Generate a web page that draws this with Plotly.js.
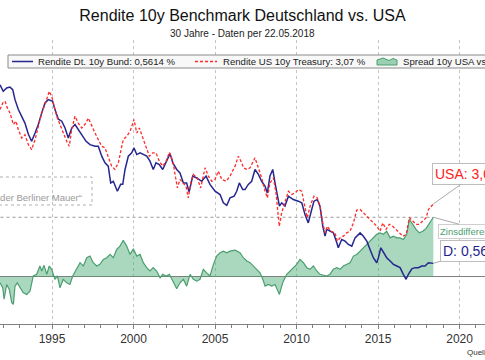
<!DOCTYPE html>
<html><head><meta charset="utf-8">
<script src="https://cdn.plot.ly/plotly-3.0.1.min.js"></script>
<style>html,body{margin:0;padding:0;background:#fff}#chart{width:485px;height:360px}</style>
</head><body><div id="chart"></div>
<script>
const deYears=[1991.81,1992.01,1992.22,1992.42,1992.59,1992.73,1992.93,1993.14,1993.34,1993.55,1993.75,1993.96,1994.16,1994.37,1994.57,1994.77,1995.04,1995.18,1995.39,1995.60,1995.80,1996.00,1996.21,1996.41,1996.61,1996.82,1997.09,1997.33,1997.64,1997.84,1998.05,1998.25,1998.45,1998.60,1998.76,1999.01,1999.21,1999.34,1999.48,1999.68,1999.89,2000.03,2000.20,2000.40,2000.60,2000.81,2001.01,2001.21,2001.38,2001.58,2001.79,2002.04,2002.24,2002.41,2002.65,2002.85,2003.06,2003.26,2003.41,2003.63,2003.88,2004.18,2004.45,2004.69,2005.00,2005.31,2005.51,2005.72,2005.92,2006.17,2006.33,2006.49,2006.70,2006.84,2007.04,2007.25,2007.45,2007.66,2007.86,2008.07,2008.21,2008.37,2008.54,2008.68,2008.82,2008.95,2009.09,2009.29,2009.50,2009.80,2010.11,2010.32,2010.52,2010.72,2010.93,2011.07,2011.27,2011.44,2011.61,2011.75,2011.85,2012.05,2012.26,2012.47,2012.56,2012.77,2012.98,2013.18,2013.39,2013.59,2013.79,2013.90,2014.10,2014.31,2014.51,2014.71,2014.92,2015.02,2015.17,2015.33,2015.53,2015.74,2015.94,2016.15,2016.35,2016.55,2016.72,2016.86,2017.07,2017.27,2017.47,2017.68,2017.88,2018.09,2018.29,2018.39];
const deVals=[8.11,7.83,7.97,8.01,7.90,7.48,7.07,6.78,6.49,6.02,5.72,6.07,6.43,6.92,7.34,7.48,7.41,7.06,6.65,6.57,6.28,5.86,6.28,6.43,6.22,6.00,5.72,5.58,5.51,5.51,5.09,4.81,4.67,3.96,4.03,3.61,3.90,3.90,4.53,5.09,5.23,5.44,5.16,5.23,5.16,5.09,4.88,4.53,4.81,4.74,4.53,4.88,5.20,4.81,4.53,4.38,3.96,3.96,3.57,4.25,4.17,4.03,4.25,3.90,3.61,3.47,3.12,3.01,3.33,3.40,3.61,3.96,3.68,3.68,3.90,4.03,4.53,4.32,4.03,3.82,3.54,4.25,4.53,3.96,3.47,2.98,3.12,2.98,3.40,3.26,3.19,3.12,2.63,2.27,2.84,3.19,3.26,2.98,2.13,1.71,2.00,1.92,1.85,1.43,1.22,1.57,1.50,1.36,1.29,1.64,1.79,1.85,1.71,1.50,1.15,0.80,0.59,0.80,1.22,1.01,0.80,0.66,0.52,0.45,0.38,0.10,-0.11,0.10,0.33,0.38,0.38,0.45,0.45,0.59,0.56,0.5614];

const usYears=[1991.81,1991.98,1992.12,1992.26,1992.42,1992.63,1992.79,1992.93,1993.14,1993.34,1993.55,1993.75,1993.96,1994.16,1994.37,1994.57,1994.83,1994.98,1995.12,1995.29,1995.49,1995.69,1995.90,1996.06,1996.21,1996.41,1996.61,1996.82,1997.02,1997.23,1997.44,1997.64,1997.84,1998.05,1998.25,1998.45,1998.66,1998.86,1999.07,1999.28,1999.37,1999.58,1999.79,2000.03,2000.20,2000.36,2000.57,2000.77,2000.97,2001.18,2001.38,2001.58,2001.79,2002.00,2002.20,2002.41,2002.55,2002.69,2002.85,2003.06,2003.22,2003.36,2003.51,2003.67,2003.91,2004.12,2004.39,2004.59,2004.80,2005.00,2005.20,2005.41,2005.68,2005.92,2006.23,2006.43,2006.64,2006.74,2006.95,2007.15,2007.45,2007.66,2007.86,2008.07,2008.21,2008.37,2008.58,2008.74,2008.88,2008.94,2009.09,2009.29,2009.50,2009.71,2009.91,2010.11,2010.32,2010.46,2010.66,2010.83,2011.07,2011.27,2011.44,2011.61,2011.75,2011.89,2012.10,2012.36,2012.50,2012.67,2012.87,2013.08,2013.28,2013.49,2013.69,2013.90,2014.10,2014.31,2014.51,2014.71,2014.92,2015.12,2015.29,2015.49,2015.69,2015.90,2016.10,2016.31,2016.52,2016.72,2016.92,2017.13,2017.33,2017.53,2017.74,2017.95,2018.09,2018.29,2018.39];
const usVals=[7.06,7.34,7.41,7.13,6.92,6.43,6.57,6.22,5.86,6.00,5.58,5.37,5.79,6.35,6.92,7.27,7.83,7.62,7.20,6.78,6.43,6.07,5.72,5.51,6.22,6.78,6.49,6.28,6.43,6.70,6.35,6.07,5.79,5.51,5.44,5.09,4.67,4.53,4.81,5.51,5.79,5.93,6.14,6.64,6.07,6.28,5.86,5.51,5.09,5.23,5.23,4.88,4.67,4.88,5.26,4.88,4.25,3.75,4.11,3.96,3.82,3.33,3.96,4.32,4.17,3.75,4.60,4.25,4.03,4.11,4.46,4.11,4.03,4.25,4.67,5.09,4.81,4.60,4.53,4.60,5.02,4.60,4.17,3.61,3.33,3.96,4.17,3.54,2.70,2.13,2.70,3.12,3.61,3.47,3.54,3.68,3.61,3.12,2.49,2.98,3.40,3.33,2.98,2.27,1.85,2.13,1.92,1.85,1.50,1.64,1.71,1.85,1.92,2.27,2.81,2.84,2.70,2.56,2.42,2.27,2.13,1.92,2.27,2.00,2.21,2.13,2.00,1.85,1.71,1.78,2.49,2.35,2.21,2.21,2.35,2.49,2.84,2.98,3.07];

const spYears=[1991.81,1991.98,1992.06,1992.22,1992.38,1992.53,1992.63,1992.73,1992.87,1993.04,1993.24,1993.45,1993.65,1993.85,1994.06,1994.26,1994.37,1994.51,1994.68,1994.83,1994.98,1995.18,1995.33,1995.49,1995.69,1995.90,1996.10,1996.27,1996.52,1996.72,1996.92,1997.13,1997.33,1997.53,1997.74,1997.94,1998.15,1998.36,1998.56,1998.76,1998.97,1999.17,1999.37,1999.58,1999.79,1999.99,2000.20,2000.40,2000.60,2000.81,2001.01,2001.21,2001.42,2001.63,2001.79,2002.00,2002.20,2002.41,2002.65,2002.85,2003.06,2003.26,2003.47,2003.67,2003.88,2004.08,2004.28,2004.49,2004.69,2004.90,2005.10,2005.31,2005.51,2005.72,2005.92,2006.23,2006.53,2006.74,2006.95,2007.15,2007.35,2007.56,2007.76,2007.93,2008.07,2008.27,2008.48,2008.68,2008.82,2008.95,2009.09,2009.19,2009.40,2009.60,2009.80,2010.01,2010.21,2010.42,2010.63,2010.83,2011.03,2011.24,2011.44,2011.64,2011.85,2012.05,2012.26,2012.47,2012.67,2012.87,2013.08,2013.28,2013.49,2013.69,2013.90,2014.10,2014.31,2014.51,2014.71,2014.92,2015.12,2015.33,2015.53,2015.74,2015.94,2016.15,2016.35,2016.55,2016.76,2016.92,2017.13,2017.33,2017.53,2017.74,2017.95,2018.15,2018.36,2018.39];
const spVals=[-0.26,-0.47,-0.95,-0.33,-0.54,-1.10,-1.17,-0.40,-0.26,-0.47,-0.68,-0.75,-0.61,0.03,0.10,0.45,0.24,0.48,0.10,0.45,0.31,-0.11,0.03,-0.47,-0.11,-0.26,-0.33,0.03,0.38,0.59,0.45,0.80,0.87,0.59,0.45,0.52,0.73,0.80,0.94,0.80,1.15,1.29,1.54,1.29,0.94,1.18,0.87,0.94,0.59,0.38,0.24,0.38,0.24,-0.05,0.10,0.03,0.10,-0.19,-0.51,-0.26,-0.11,-0.40,0.10,-0.11,-0.19,-0.11,0.31,0.16,0.03,0.52,0.87,1.01,1.08,1.01,1.08,1.12,1.01,0.80,0.66,0.59,0.45,0.31,0.16,-0.11,-0.40,-0.33,-0.40,-0.33,-0.54,-0.75,-0.40,-0.19,0.10,0.24,0.38,0.52,0.73,0.59,0.38,0.31,0.45,0.24,0.10,0.05,0.03,0.10,0.31,0.38,0.31,0.45,0.52,0.59,0.87,0.94,1.08,1.22,1.36,1.50,1.64,1.79,1.85,1.79,1.92,1.64,1.71,1.64,1.64,1.57,1.79,2.42,2.21,2.00,1.85,1.92,2.04,2.25,2.46,2.51];

const tickYears=[1995,2000,2005,2010,2015,2020];
const tickLabels=['1995','2000','2005','2010','2015','2020'];
const seriesNames=['Rendite Dt. 10y Bund: 0,5614 %','Rendite US 10y Treasury: 3,07 %','Spread 10y USA vs. Deutschland: 2,51 %'];

const W=485,H=360,mT=40,mB=36;
const px=x=>x/W;
const py=y=>(H-mB-y)/(H-mT-mB);
const fmt=v=>v.toFixed(2).replace('.',',');
const FONT='Liberation Sans, Arial, sans-serif';
const cDe='#26268f', cUs='#ff2a2a', cSp='#4b9e6f';
const last=a=>a[a.length-1];

const traces=[
 {x:spYears,y:spVals,type:'scatter',mode:'lines',fill:'tozeroy',fillcolor:'rgba(64,168,110,0.45)',line:{color:cSp,width:1.2},name:seriesNames[2],showlegend:false,hoverinfo:'skip'},
 {x:deYears,y:deVals,type:'scatter',mode:'lines',line:{color:cDe,width:1.5},name:seriesNames[0],showlegend:false,hoverinfo:'skip'},
 {x:usYears,y:usVals,type:'scatter',mode:'lines',line:{color:cUs,width:1.3,dash:'3px,2px'},name:seriesNames[1],showlegend:false,hoverinfo:'skip'}
];

const legY=py(61.5);
const shapes=[
 {type:'line',xref:'x',yref:'y',x0:1990,x1:last(spYears),y0:last(spVals),y1:last(spVals),line:{color:'#9a9a9a',width:1,dash:'dot'},layer:'below'},
 {type:'rect',xref:'paper',yref:'paper',x0:px(8),x1:1.05,y0:py(68),y1:py(55),fillcolor:'#f8f8f8',line:{color:'#8a8a8a',width:1}},
 {type:'line',xref:'paper',yref:'paper',x0:px(12),x1:px(33),y0:legY,y1:legY,line:{color:cDe,width:1.5}},
 {type:'line',xref:'paper',yref:'paper',x0:px(195),x1:px(217),y0:legY,y1:legY,line:{color:cUs,width:1.3,dash:'3px,2px'}},
 {type:'path',xref:'paper',yref:'paper',path:`M ${px(377)} ${py(65)} L ${px(377)} ${py(60)} L ${px(383)} ${py(58)} L ${px(389)} ${py(60.5)} L ${px(393)} ${py(58.5)} L ${px(397)} ${py(60)} L ${px(397)} ${py(65)} Z`,fillcolor:'rgba(64,168,110,0.5)',line:{color:cSp,width:1}},
 {type:'rect',xref:'paper',yref:'paper',x0:-0.2,x1:px(92),y0:py(205),y1:py(177),line:{color:'#b0b0b0',width:1,dash:'dot'}}
];

const annotations=[
 {xref:'paper',yref:'paper',x:0.5,y:py(33.5),text:'30 Jahre - Daten per 22.05.2018',showarrow:false,font:{size:10,color:'#222',family:FONT},xanchor:'center',yanchor:'middle'},
 {xref:'paper',yref:'paper',x:px(37),y:legY,text:seriesNames[0],showarrow:false,xanchor:'left',yanchor:'middle',borderpad:0,font:{size:9.6,color:'#222',family:FONT}},
 {xref:'paper',yref:'paper',x:px(222),y:legY,text:seriesNames[1],showarrow:false,xanchor:'left',yanchor:'middle',borderpad:0,font:{size:9.6,color:'#222',family:FONT}},
 {xref:'paper',yref:'paper',x:px(402),y:legY,text:seriesNames[2],showarrow:false,xanchor:'left',yanchor:'middle',borderpad:0,font:{size:9.6,color:'#222',family:FONT}},
 {xref:'paper',yref:'paper',x:px(83),y:py(197),text:'„Fall der Berliner Mauer“',showarrow:false,xanchor:'right',yanchor:'middle',borderpad:0,font:{size:9.5,color:'#9a9a9a',family:FONT}},
 {xref:'x',yref:'y',x:last(usYears),y:last(usVals),text:'USA: '+fmt(last(usVals))+' %',showarrow:true,arrowhead:0,arrowwidth:1,arrowcolor:'#aaaaaa',standoff:0,ax:42,ay:-30,font:{size:14,color:'#ff2020',family:FONT},bgcolor:'#ffffff',bordercolor:'#bdbdbd',borderwidth:1,borderpad:2},
 {xref:'x',yref:'y',x:last(spYears),y:last(spVals),text:'Zinsdifferenz: '+fmt(last(spVals))+' %',showarrow:true,arrowhead:0,arrowwidth:1,arrowcolor:'#aaaaaa',standoff:0,ax:53,ay:14,font:{size:9.5,color:cSp,family:FONT},bgcolor:'#ffffff',bordercolor:'#cfcfcf',borderwidth:1,borderpad:1},
 {xref:'x',yref:'y',x:last(deYears),y:last(deVals),text:'D: '+fmt(last(deVals))+' %',showarrow:true,arrowhead:0,arrowwidth:1,arrowcolor:'#aaaaaa',standoff:0,ax:40,ay:-12,font:{size:14,color:'#1f1f8f',family:FONT},bgcolor:'#ffffff',bordercolor:'#bdbdbd',borderwidth:1,borderpad:2},
 {xref:'paper',yref:'paper',x:px(466),y:py(352),text:'Quelle:',showarrow:false,xanchor:'left',yanchor:'middle',borderpad:0,font:{size:8,color:'#333',family:FONT}}
];

const layout={
 width:W,height:H,
 margin:{l:0,r:0,t:mT,b:mB,pad:0},
 paper_bgcolor:'#ffffff',plot_bgcolor:'#ffffff',
 font:{family:FONT,color:'#333'},
 title:{text:'Rendite 10y Benchmark Deutschland vs. USA',font:{size:16,color:'#111',family:FONT},x:0.5,xanchor:'center',xref:'paper',y:1-15/H,yref:'container',yanchor:'middle'},
 showlegend:false,
 xaxis:{range:[1991.81,2021.56],tickmode:'array',tickvals:tickYears,ticktext:tickLabels,showgrid:true,gridcolor:'#c4c4c4',griddash:'dot',gridwidth:1,showline:true,linecolor:'#808080',linewidth:1,ticks:'outside',ticklen:4,tickcolor:'#808080',tickfont:{size:12,color:'#333',family:FONT},zeroline:false,fixedrange:true,
   minor:{tickmode:'linear',tick0:1990,dtick:1,ticks:'outside',ticklen:3,tickcolor:'#808080',showgrid:false}},
 yaxis:{range:[-2,10],showticklabels:false,showgrid:false,ticks:'',zeroline:true,zerolinecolor:'#7f7f7f',zerolinewidth:1.6,showline:false,fixedrange:true},
 shapes:shapes,
 annotations:annotations
};

Plotly.newPlot('chart',traces,layout,{staticPlot:true,displayModeBar:false});
</script>
</body></html>
